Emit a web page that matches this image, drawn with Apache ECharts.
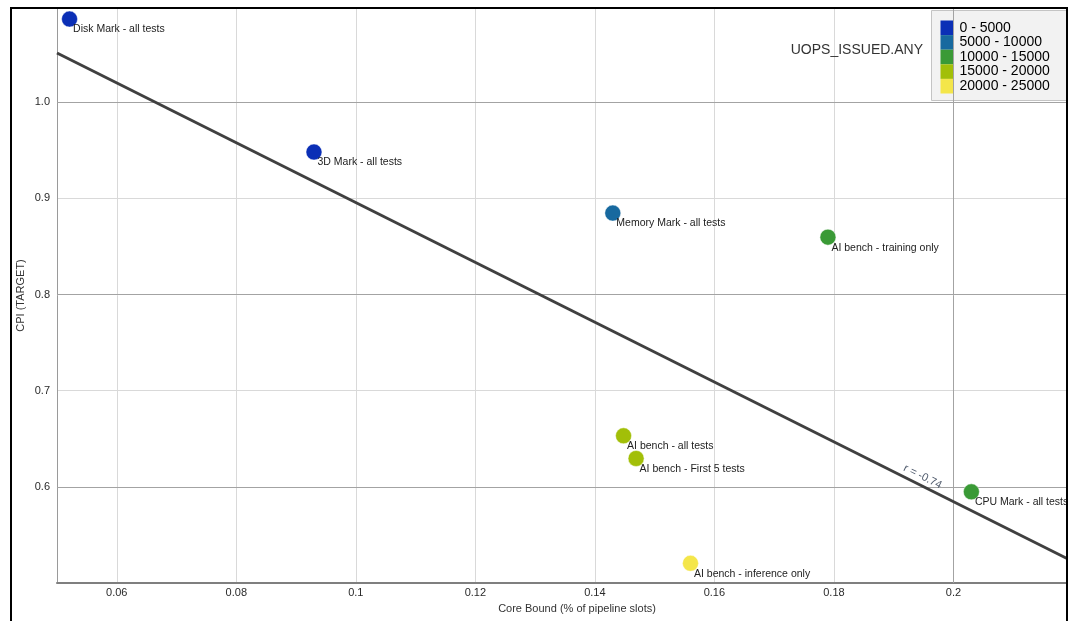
<!DOCTYPE html>
<html>
<head>
<meta charset="utf-8">
<title>CPI vs Core Bound</title>
<script src="https://cdn.jsdelivr.net/npm/echarts@6/dist/echarts.min.js"></script>
<style>
  html, body { margin: 0; padding: 0; background: #fff; }
  #chart { width: 1069px; height: 621px; }
</style>
</head>
<body>
<div id="chart"></div>
<script>
// Benchmarks: core-bound share vs CPI, coloured by UOPS_ISSUED.ANY band
const names = [
  'Disk Mark - all tests',
  '3D Mark - all tests',
  'Memory Mark - all tests',
  'AI bench - training only',
  'AI bench - all tests',
  'AI bench - First 5 tests',
  'AI bench - inference only',
  'CPU Mark - all tests'
];
const coreBound = [0.0521, 0.0930, 0.1430, 0.1790, 0.1448, 0.1469, 0.1560, 0.2030];
const cpi = [1.0865, 0.9482, 0.8847, 0.8597, 0.6531, 0.6295, 0.5205, 0.5948];
// index into the UOPS bands below
const uopsBand = [0, 0, 1, 2, 3, 3, 4, 2];

const bandLabels = ['0 - 5000', '5000 - 10000', '10000 - 15000', '15000 - 20000', '20000 - 25000'];
const bandColors = ['#0b2fb6', '#17699f', '#3a9a36', '#a2bf08', '#f4e64a'];

// fitted trend line, end points
const trendX = [0.05, 0.219];
const trendY = [1.0512, 0.5255];
const trendLabel = 'r = -0.74';

// heavier grid lines
const majorX = [0.2];
const majorY = [0.6, 0.8, 1.0];

const xTitle = 'Core Bound (% of pipeline slots)';
const yTitle = 'CPI (TARGET)';
const mapTitle = 'UOPS_ISSUED.ANY';

const FONT = 'Liberation Sans, Arial, sans-serif';

const points = names.map((n, i) => ({ name: n, value: [coreBound[i], cpi[i], uopsBand[i]] }));

const chart = echarts.init(document.getElementById('chart'), null, { renderer: 'canvas' });

chart.setOption({
  animation: false,
  backgroundColor: '#ffffff',
  textStyle: { fontFamily: FONT },
  title: {
    text: mapTitle,
    right: 146,
    top: 43,
    padding: 0,
    textStyle: { fontFamily: FONT, fontSize: 14, fontWeight: 'normal', color: '#333' }
  },
  grid: { left: 57, right: 2, top: 8, bottom: 38, containLabel: false },
  xAxis: {
    type: 'value',
    min: 0.05,
    max: 0.219,
    splitNumber: 8,
    name: xTitle,
    nameLocation: 'middle',
    nameGap: 20,
    nameMoveOverlap: false,
    nameTextStyle: { fontFamily: FONT, fontSize: 11, color: '#333', padding: [0, 0, 0, 30] },
    axisLine: { show: true, lineStyle: { color: '#7f7f7f', width: 2 } },
    axisTick: { show: false },
    axisLabel: {
      showMinLabel: false, showMaxLabel: false,
      margin: 4, fontFamily: FONT, fontSize: 11, color: '#2a2a2a'
    },
    splitLine: { show: true, lineStyle: { color: '#d9d9d9', width: 1 } }
  },
  yAxis: {
    type: 'value',
    min: 0.5,
    max: 1.098,
    interval: 0.1,
    name: yTitle,
    nameLocation: 'middle',
    nameRotate: 90,
    nameGap: 31,
    nameMoveOverlap: false,
    nameTextStyle: { fontFamily: FONT, fontSize: 11, color: '#333' },
    axisLine: { show: true, lineStyle: { color: '#9a9a9a', width: 1 } },
    axisTick: { show: false },
    axisLabel: {
      showMinLabel: false, showMaxLabel: false,
      margin: 7, fontFamily: FONT, fontSize: 11, color: '#2a2a2a',
      formatter: v => v.toFixed(1)
    },
    splitLine: { show: true, lineStyle: { color: '#d9d9d9', width: 1 } }
  },
  visualMap: {
    type: 'piecewise',
    seriesIndex: 2,
    dimension: 2,
    orient: 'vertical',
    inverse: true,
    align: 'left',
    left: 931,
    top: 10,
    padding: [10, 17, 7, 9],
    itemWidth: 13,
    itemHeight: 14.6,
    itemGap: 0,
    itemSymbol: 'rect',
    textGap: 6,
    backgroundColor: 'rgba(238,238,238,0.75)',
    borderColor: '#c4c4c4',
    borderWidth: 1,
    selectedMode: false,
    hoverLink: false,
    textStyle: { fontFamily: FONT, fontSize: 14, color: '#000' },
    pieces: bandLabels.map((l, i) => ({ value: i, label: l, color: bandColors[i] }))
  },
  series: [
    {
      // heavier grid lines
      type: 'line',
      data: [],
      silent: true,
      z: 1,
      markLine: {
        silent: true,
        symbol: ['none', 'none'],
        label: { show: false },
        lineStyle: { type: 'solid', color: '#a3a3a3', width: 1 },
        emphasis: { disabled: true },
        data: majorX.map(v => ({ xAxis: v })).concat(majorY.map(v => ({ yAxis: v })))
      }
    },
    {
      // trend line with correlation label
      type: 'line',
      data: [],
      silent: true,
      markLine: {
        silent: true,
        z: 5,
        symbol: ['none', 'none'],
        lineStyle: { type: 'solid', color: '#404040', width: 3 },
        emphasis: { disabled: true },
        label: {
          show: true,
          position: 'insideEndTop',
          distance: [145, 3],
          formatter: trendLabel,
          fontFamily: FONT,
          fontSize: 11,
          color: '#4f5a6c'
        },
        data: [[{ coord: [trendX[0], trendY[0]] }, { coord: [trendX[1], trendY[1]] }]]
      }
    },
    {
      type: 'scatter',
      z: 6,
      symbolSize: 16,
      data: points,
      itemStyle: { borderColor: 'rgba(255,255,255,0.45)', borderWidth: 1, opacity: 1 },
      label: {
        show: true,
        position: [12, 19],
        align: 'left',
        verticalAlign: 'middle',
        formatter: '{b}',
        fontFamily: FONT,
        fontSize: 10.5,
        color: '#222'
      },
      emphasis: { disabled: true }
    }
  ],
  graphic: [
    {
      type: 'rect',
      z: 100,
      silent: true,
      shape: { x: 11, y: 8, width: 1056, height: 640 },
      style: { fill: 'none', stroke: '#000', lineWidth: 2 }
    }
  ]
});
</script>
</body>
</html>
